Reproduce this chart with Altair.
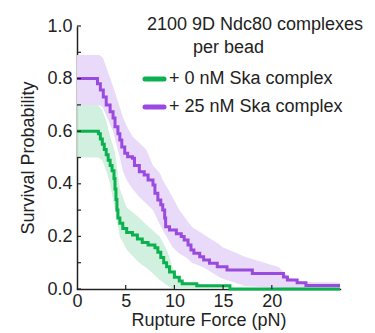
import altair as alt
import pandas as pd

# ---- data ----
green_x = [0, 2.2, 2.4, 2.6, 2.8, 3.0, 3.2, 3.4, 3.6, 3.8, 3.9, 4.0, 4.1, 4.2, 4.4, 4.7,
           5.1, 5.7, 6.2, 6.7, 7.3, 8.0, 8.3, 8.6, 8.9, 9.2, 9.5, 10.0, 10.5, 10.8, 12.3, 15.7, 27]
green_y = [0.6, 0.59, 0.57, 0.55, 0.53, 0.51, 0.49, 0.47, 0.45, 0.42, 0.38, 0.34, 0.30, 0.27, 0.25, 0.23,
           0.215, 0.205, 0.19, 0.177, 0.167, 0.157, 0.14, 0.12, 0.10, 0.085, 0.065, 0.045, 0.03, 0.02, 0.012, 0.0, 0.0]

green_band_x = [0, 2.2, 2.6, 3.0, 3.4, 3.9, 4.4, 5.1, 6.1, 6.4, 7.4, 8.5, 9.2, 9.5, 9.8, 10.5, 12, 15.7]
green_band_hi = [0.70, 0.70, 0.68, 0.64, 0.58, 0.52, 0.38, 0.31, 0.28, 0.27, 0.235, 0.20, 0.15, 0.12, 0.085, 0.03, 0.02, 0.005]
green_band_lo = [0.50, 0.50, 0.49, 0.45, 0.40, 0.30, 0.20, 0.15, 0.11, 0.10, 0.072, 0.034, 0.015, 0.008, 0.003, 0.0, 0.0, 0.0]

purple_x = [0, 2.1, 2.4, 2.7, 3.0, 3.4, 3.7, 3.9, 4.2, 4.4, 4.6, 4.9, 5.2, 5.7, 5.9, 6.4, 6.9, 7.3,
            7.8, 8.0, 8.3, 8.6, 8.8, 9.0, 9.1, 9.5, 10.2, 10.7, 11.0, 11.4, 11.7, 12.0, 12.6, 13.0,
            13.6, 14.4, 15.4, 18.0, 21.2, 21.6, 22.6, 23.5, 27]
purple_y = [0.8, 0.78, 0.757, 0.73, 0.70, 0.674, 0.65, 0.617, 0.59, 0.567, 0.54, 0.516, 0.503, 0.497,
            0.47, 0.446, 0.433, 0.414, 0.395, 0.364, 0.338, 0.32, 0.30, 0.27, 0.237, 0.224, 0.21, 0.2,
            0.186, 0.167, 0.148, 0.136, 0.123, 0.11, 0.098, 0.085, 0.072, 0.059, 0.046, 0.034, 0.024,
            0.013, 0.013]

purple_band_x = [0, 2.3, 2.65, 3.7, 4.4, 4.7, 5.1, 5.7, 6.4, 7.1, 7.8, 8.5, 8.8, 9.8, 10.5, 11.2,
                 11.8, 12.9, 13.3, 14.6, 14.9, 17.3, 20.7, 21.7, 23.1, 27]
purple_band_hi = [0.89, 0.89, 0.88, 0.77, 0.69, 0.654, 0.62, 0.58, 0.555, 0.53, 0.47, 0.44, 0.414,
                  0.35, 0.30, 0.265, 0.236, 0.21, 0.2, 0.17, 0.16, 0.122, 0.084, 0.046, 0.027, 0.025]
purple_band_lo = [0.70, 0.70, 0.69, 0.60, 0.50, 0.45, 0.414, 0.38, 0.35, 0.325, 0.30, 0.245, 0.224,
                  0.16, 0.135, 0.12, 0.10, 0.084, 0.075, 0.046, 0.04, 0.01, 0.005, 0.003, 0.002, 0.002]

y_ticks = [0.0, 0.1, 0.2, 0.3, 0.4, 0.5, 0.6, 0.7, 0.8, 0.9, 1.0]
y_labels = [0.0, 0.2, 0.4, 0.6, 0.8, 1.0]
x_ticks = [5, 10, 15, 20]
x_labels = [0, 5, 10, 15, 20]

legend_title = ["2100 9D Ndc80 complexes", "per bead"]
series_names = ["+ 0 nM Ska complex", "+ 25 nM Ska complex"]

GREEN = "#0BB04F"
PURPLE = "#9A4ADF"
GREEN_BAND = "#CDEEDB"
PURPLE_BAND = "#E8DAF8"
FONT = "Liberation Sans"
FS = 18

W, H = 263, 263
xs = alt.Scale(domain=[0, 27], nice=False, zero=False)
ys = alt.Scale(domain=[0, 1], nice=False)

gline = pd.DataFrame({"x": green_x, "y": green_y})
pline = pd.DataFrame({"x": purple_x, "y": purple_y})
gband = pd.DataFrame({"x": green_band_x, "hi": green_band_hi, "lo": green_band_lo})
pband = pd.DataFrame({"x": purple_band_x, "hi": purple_band_hi, "lo": purple_band_lo})

xaxis = alt.Axis(values=x_labels, title="Rupture Force (pN)", tickSize=0, labelPadding=3,
                 titlePadding=1, grid=False, labelFlush=False)
yaxis = alt.Axis(values=y_labels, format=".1f", title="Survival Probability", tickSize=0,
                 labelPadding=5, titlePadding=9, grid=False)

pb = alt.Chart(pband).mark_area(color=PURPLE_BAND, opacity=1).encode(
    x=alt.X("x:Q", scale=xs, axis=xaxis), y=alt.Y("lo:Q", scale=ys, axis=yaxis), y2="hi:Q")
gb = alt.Chart(gband).mark_area(color=GREEN_BAND, opacity=0.9).encode(
    x=alt.X("x:Q", scale=xs), y=alt.Y("lo:Q", scale=ys), y2="hi:Q")
gl = alt.Chart(gline).mark_line(color=GREEN, strokeWidth=3, interpolate="step-after").encode(
    x=alt.X("x:Q", scale=xs), y=alt.Y("y:Q", scale=ys))
pl = alt.Chart(pline).mark_line(color=PURPLE, strokeWidth=3, interpolate="step-after").encode(
    x=alt.X("x:Q", scale=xs), y=alt.Y("y:Q", scale=ys))

yt = alt.Chart(pd.DataFrame({"v": y_ticks})).mark_rule(color="#222", strokeWidth=1.2).encode(
    y=alt.Y("v:Q", scale=ys), x=alt.value(0), x2=alt.value(4))
xt = alt.Chart(pd.DataFrame({"v": x_ticks})).mark_rule(color="#222", strokeWidth=1.2).encode(
    x=alt.X("v:Q", scale=xs), y=alt.value(H), y2=alt.value(H - 4))

# legend (manual)
t1 = alt.Chart(pd.DataFrame({"t": [legend_title[0]]})).mark_text(
    font=FONT, fontSize=FS, align="left", baseline="middle", color="#222").encode(
    text="t:N", x=alt.value(70), y=alt.value(-1))
t2 = alt.Chart(pd.DataFrame({"t": [legend_title[1]]})).mark_text(
    font=FONT, fontSize=FS, align="left", baseline="middle", color="#222").encode(
    text="t:N", x=alt.value(116), y=alt.value(22))
leg_df = pd.DataFrame({"name": series_names, "yy": [53, 81]})
leg_sym_g = alt.Chart(pd.DataFrame({"a": [0]})).mark_rule(color=GREEN, strokeWidth=5, strokeCap="round").encode(
    x=alt.value(68), x2=alt.value(87), y=alt.value(53))
leg_sym_p = alt.Chart(pd.DataFrame({"a": [0]})).mark_rule(color=PURPLE, strokeWidth=5, strokeCap="round").encode(
    x=alt.value(68), x2=alt.value(87), y=alt.value(81))
leg_txt = alt.Chart(leg_df).mark_text(font=FONT, fontSize=FS, align="left", baseline="middle",
                                      color="#222").encode(
    text="name:N", x=alt.value(92), y=alt.Y("yy:Q", scale=None))

chart = alt.layer(pb, gb, pl, gl, yt, xt, t1, t2, leg_sym_g, leg_sym_p, leg_txt).properties(
    width=W, height=H,
    autosize=alt.AutoSizeParams(type="none"),
    padding={"left": 77, "top": 26, "right": 35, "bottom": 44},
).configure_view(stroke=None).configure_axis(
    domainColor="#222", domainWidth=1.5, labelFont=FONT, labelFontSize=FS, labelColor="#222",
    titleFont=FONT, titleFontSize=FS, titleColor="#222", titleFontWeight="normal",
).configure_axisX(domainCap="square")

chart.save("out.html", embed_options={"renderer": "svg", "actions": False})
